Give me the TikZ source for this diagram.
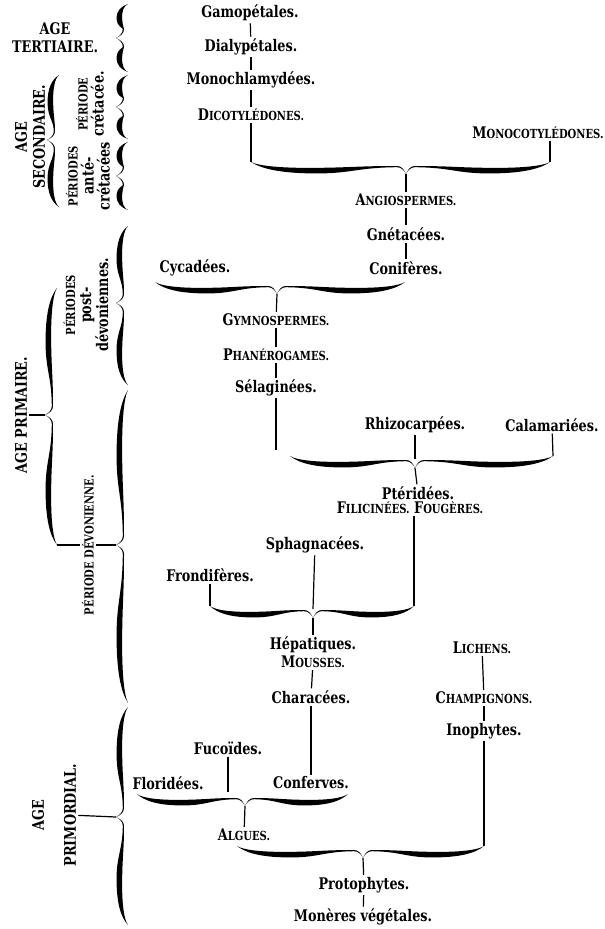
\documentclass[tikz,border=0pt]{standalone}
\usepackage{fontspec}
\setmainfont{DejaVu Serif}[FakeStretch=0.8]
\usepackage{tikz}
\newcommand\pc[2]{#1{\fontsize{12.5}{13}\selectfont #2}}
\newcommand\demiaccol[1]{%
  \fill (0,0) .. controls (-2,-5) and (-5,-8) .. (-9,-8)
    .. controls (-0.3*#1,-8) and (-0.35*#1,-6.6) .. (-0.55*#1,-6.2)
    .. controls (-0.8*#1,-5.6) and (-0.95*#1,-8) .. (-#1,-12)
    .. controls (-0.93*#1,-5) and (-0.8*#1,-0.2) .. (-0.55*#1,-0.6)
    .. controls (-0.35*#1,-1) and (-0.3*#1,-6.5) .. (-9,-6.8)
    .. controls (-5,-6.8) and (-2,-4) .. (0,0) -- cycle;}
\tikzset{
  pics/accol/.style 2 args={code={
    \demiaccol{#1}
    \begin{scope}[xscale=-1]\demiaccol{#2}\end{scope}
    \coordinate (-pointe) at (0,0);
    \coordinate (-haut) at (0,-9);
    \coordinate (-g) at (-#1,-12);
    \coordinate (-d) at (#2,-12);
  }},
  nom/.style={font=\fontsize{16}{16}\selectfont\bfseries, inner sep=2pt},
  age/.style={font=\fontsize{16}{18}\selectfont\bfseries, inner sep=2pt},
  vert/.style={rotate=90, align=center},
  link/.style={draw=black, line width=1.2pt},
}

\begin{document}
\begin{tikzpicture}[x=1pt,y=-1pt]
  \fill[white] (0,0) rectangle (605,929);
  \useasboundingbox (0,0) rectangle (605,929);

  % ages et periodes
  \node[age, align=center] (tertiaire) at (55,38) {AGE\\TERTIAIRE.};
  \node[age, vert] (secondaire) at (30,137) {AGE\\SECONDAIRE.};
  \node[nom, vert] (cretace) at (90,104) {\pc{}{PÉRIODE}\\crétacée.};
  \node[nom, vert] (antecretace) at (88,176) {\pc{}{PÉRIODES}\\anté-\\crétacées};
  \node[nom, vert] (postdevon) at (86,305) {\pc{}{PÉRIODES}\\post-\\dévoniennes.};
  \node[age, vert] (primaire) at (21,415) {AGE PRIMAIRE.};
  \node[nom, vert] (devon) at (88,545) {\pc{}{PÉRIODE DÉVONIENNE.}};
  \node[age, vert] (agepm) at (38,815) {AGE};
  \node[age, vert] (primordial) at (70,815) {PRIMORDIAL.};

  \pic[rotate=-90] (v1) at (116,38) {accol={34}{34}};
  \pic[rotate=-90] (v2) at (116,107) {accol={32}{32}};
  \pic[rotate=-90] (v3) at (116,176) {accol={34}{34}};
  \pic[rotate=-90] (v4) at (116,303) {accol={77}{82}};
  \pic[rotate=-90] (v5) at (116,545) {accol={155}{158}};
  \pic[rotate=-90] (v6) at (116,817) {accol={110}{108}};
  \pic[rotate=-90] (vs) at (47,140) {accol={65}{67}};
  \pic[rotate=-90] (vp) at (45,415) {accol={127}{130}};

  \draw[link] (primaire) -- (vp-pointe);
  \draw[link] (vp-d) -- (devon);
  \draw[link] (devon) -- (v5-pointe);
  \draw[link] (primordial) -- (v6-pointe);

  % phanerogames
  \node[nom] (gamo) at (250,13) {Gamopétales.};
  \node[nom] (dialy) at (251,47) {Dialypétales.};
  \node[nom] (monochl) at (251,80) {Monochlamydées.};
  \node[nom] (dicot) at (251,115) {\pc{D}{ICOTYLÉDONES.}};
  \node[nom] (monocot) at (538,133) {\pc{M}{ONOCOTYLÉDONES.}};
  \pic (b1) at (406,174) {accol={155}{144}};
  \node[nom] (angio) at (406,200) {\pc{A}{NGIOSPERMES.}};
  \node[nom] (gnet) at (406,234) {Gnétacées.};
  \node[nom] (conif) at (406,268) {Conifères.};
  \node[nom] (cycad) at (195,268) {Cycadées.};
  \pic (b2) at (277,294) {accol={122}{128}};
  \node[nom] (gymno) at (276,320) {\pc{G}{YMNOSPERMES.}};
  \node[nom] (phanero) at (276,355) {\pc{P}{HANÉROGAMES.}};
  \node[nom] (selag) at (276,388) {Sélaginées.};
  \coordinate (selag-bas) at (276,450);

  \draw[link] (gamo) -- (dialy);
  \draw[link] (dialy) -- (monochl);
  \draw[link] (monochl) -- (dicot);
  \draw[link] (dicot) -- (b1-g);
  \draw[link] (monocot.south -| b1-d) -- (b1-d);
  \draw[link] (b1-pointe) -- (angio);
  \draw[link] (angio) -- (gnet);
  \draw[link] (gnet) -- (conif);
  \draw[link] (b2-pointe) -- (gymno);
  \draw[link] (gymno) -- (phanero);
  \draw[link] (phanero) -- (selag);
  \draw[link] (selag) -- (selag-bas);

  % cryptogames
  \node[nom] (rhizo) at (415,425) {Rhizocarpées.};
  \node[nom] (calam) at (552,425) {Calamariées.};
  \pic (b3) at (415,468) {accol={125}{138}};
  \node[nom] (pter) at (418,493) {Ptéridées.};
  \node[nom] (filic) at (410,508) {\pc{F}{ILICINÉES.} \pc{F}{OUGÈRES.}};
  \node[nom] (spha) at (315,545) {Sphagnacées.};
  \node[nom] (frond) at (210,575) {Frondifères.};
  \pic (b4) at (313,618) {accol={103}{101}};
  \node[nom] (hepat) at (313,645) {Hépatiques.};
  \node[nom] (mousses) at (313,662) {\pc{M}{OUSSES.}};
  \node[nom] (chara) at (311,697) {Characées.};
  \node[nom] (lichens) at (482,648) {\pc{L}{ICHENS.}};
  \node[nom] (champ) at (484,698) {\pc{C}{HAMPIGNONS.}};
  \node[nom] (inoph) at (484,731) {Inophytes.};

  \draw[link] (rhizo) -- (b3-haut);
  \draw[link] (calam) -- (b3-d);
  \draw[link] (b3-pointe) -- (pter);
  \draw[link] (filic.south -| b4-d) -- (b4-d);
  \draw[link] (spha) -- (b4-haut);
  \draw[link] (frond) -- (b4-g);
  \draw[link] (b4-pointe) -- (hepat);
  \draw[link] (mousses) -- (chara);
  \draw[link] (lichens) -- (champ);
  \draw[link] (champ) -- (inoph);

  % algues et protophytes
  \node[nom] (fuco) at (228,748) {Fucoïdes.};
  \coordinate (fuco-bas) at (228,792);
  \node[nom] (flori) at (168,783) {Floridées.};
  \node[nom] (conferv) at (311,783) {Conferves.};
  \pic (b5) at (245,806) {accol={108}{103}};
  \node[nom] (algues) at (244,835) {\pc{A}{LGUES.}};
  \pic (b6) at (363,858) {accol={126}{121}};
  \node[nom] (proto) at (364,885) {Protophytes.};
  \node[nom] (monere) at (363,917) {Monères végétales.};

  \draw[link] (fuco) -- (fuco-bas);
  \draw[link] (chara) -- (conferv);
  \draw[link] (b5-pointe) -- (algues);
  \draw[link] (inoph) -- (b6-d);
  \draw[link] (b6-pointe) -- (proto);
  \draw[link] (proto) -- (monere);
\end{tikzpicture}
\end{document}
